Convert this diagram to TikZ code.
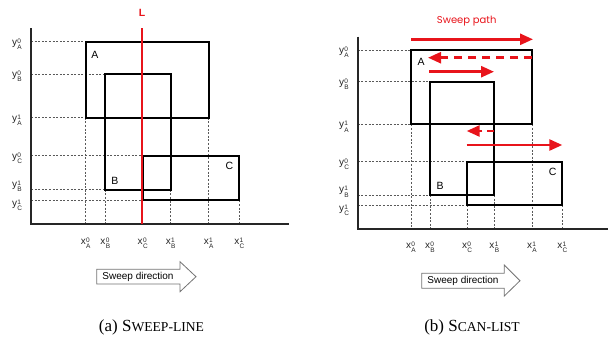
\documentclass[tikz,border=0pt]{standalone}
\usepackage{fontspec}
\setmainfont{Liberation Sans}
\newfontfamily\capfont{Liberation Serif}
\newfontfamily\pathfont{Poppins}
\usetikzlibrary{arrows.meta}
\newcommand\lbl[3]{#1\hspace{0.3pt}\raisebox{-4.2pt}{\fontsize{6.5}{7}\selectfont\setlength{\tabcolsep}{0pt}\renewcommand{\arraystretch}{0.95}\begin{tabular}[b]{l}#2\\#3\end{tabular}}}
\definecolor{sweepred}{HTML}{E8141B}
\tikzset{
  box/.style={draw=black, line width=1.8pt, fill=none},
  guide/.style={draw=black!65, line width=0.6pt, dash pattern=on 2pt off 1.6pt},
  axisline/.style={draw=black!85, line width=1.6pt},
  tick/.style={font=\fontsize{10}{11}\selectfont, text=black!85, inner sep=0pt},
  rectlbl/.style={font=\fontsize{10.5}{11}\selectfont, inner sep=0pt},
  dirarrow/.style={draw=black!55, line width=0.8pt, fill=white},
  dirtext/.style={font=\fontsize{10}{11}\selectfont, inner sep=0pt},
  redpath/.style={draw=sweepred, line width=2.6pt, -{Triangle[length=13pt,width=11pt]}},
  reddash/.style={redpath, dash pattern=on 8pt off 6pt},
  caption/.style={font=\capfont, inner sep=0pt},
}
\begin{document}
\begin{tikzpicture}[x=1pt,y=-1pt]
\useasboundingbox (0,0) rectangle (608,346);
% ================= LEFT PANEL =================
\coordinate (A0) at (85.7,41.7);  \coordinate (A1) at (208.7,117.7);
\coordinate (B0) at (105.3,74);   \coordinate (B1) at (170.7,189.7);
\coordinate (C0) at (142.7,155.7);\coordinate (C1) at (239.3,200.3);
\coordinate (O) at (31,224);
\foreach \p/\q in {A0/A0, B0/B0, A1/A0, C0/C0, B1/B0, C1/C0}{
  \draw[guide] (O |- \p) -- (\q |- \p);
}
\foreach \p/\q in {A0/A1, B0/B1, C0/C1, B1/B1, A1/A1, C1/C1}{
  \draw[guide] (\p |- \q) -- (\p |- O);
}
\draw[box] (A0) rectangle (A1);
\draw[box] (B0) rectangle (B1);
\draw[box] (C0) rectangle (C1);
\node[rectlbl] (la) at (95,54.5) {A};
\node[rectlbl] (lb) at (115,181) {B};
\node[rectlbl] (lc) at (229.3,165.7) {C};
\draw[axisline] (31,28) -- (O) -- (289,224);
\coordinate (Ltop) at (142,28);
\coordinate (Lbot) at (142,224);
\draw[draw=sweepred, line width=2.6pt] (Ltop) -- (Lbot);
\node[font=\bfseries\fontsize{10.5}{11}\selectfont, text=sweepred, inner sep=0pt] (L) at (142,13) {L};
\node[tick] at (17,45) {\lbl{y}{0}{A}};
\node[tick] at (17,77) {\lbl{y}{0}{B}};
\node[tick] at (17,121) {\lbl{y}{1}{A}};
\node[tick] at (17,159) {\lbl{y}{0}{C}};
\node[tick] at (17,187) {\lbl{y}{1}{B}};
\node[tick] at (17,206) {\lbl{y}{1}{C}};
\node[tick] at (85.7,244) {\lbl{x}{0}{A}};
\node[tick] at (105.3,244) {\lbl{x}{0}{B}};
\node[tick] at (142.7,244) {\lbl{x}{0}{C}};
\node[tick] at (170.7,244) {\lbl{x}{1}{B}};
\node[tick] at (208.7,244) {\lbl{x}{1}{A}};
\node[tick] at (239.3,244) {\lbl{x}{1}{C}};
\draw[dirarrow] (96.7,269.3) -- (180,269.3) -- (180,261.7) -- (196,276.7) -- (180,291.7) -- (180,284) -- (96.7,284) -- cycle;
\node[dirtext] (sdl) at (138,276.7) {Sweep direction};
\node[caption] (capa) at (151.5,327) {\fontsize{17}{17}\selectfont (a) S\fontsize{13.6}{14}\selectfont WEEP-LINE};

% ================= RIGHT PANEL =================
\coordinate (RA0) at (411,50);   \coordinate (RA1) at (532,124.3);
\coordinate (RB0) at (430,81.7); \coordinate (RB1) at (494.3,195);
\coordinate (RC0) at (467,161.7);\coordinate (RC1) at (562.3,205.3);
\coordinate (RO) at (357.7,229);
\foreach \p/\q in {RA0/RA0, RB0/RB0, RA1/RA0, RC0/RC0, RB1/RB0, RC1/RC0}{
  \draw[guide] (RO |- \p) -- (\q |- \p);
}
\foreach \p/\q in {RA0/RA1, RB0/RB1, RC0/RC1, RB1/RB1, RA1/RA1, RC1/RC1}{
  \draw[guide] (\p |- \q) -- (\p |- RO);
}
\draw[box] (RA0) rectangle (RA1);
\draw[box] (RB0) rectangle (RB1);
\draw[box] (RC0) rectangle (RC1);
\node[rectlbl] (rla) at (421,61.7) {A};
\node[rectlbl] (rlb) at (440,185.7) {B};
\node[rectlbl] (rlc) at (552.7,172.3) {C};
\draw[axisline] (357.7,36.7) -- (RO) -- (608,229);
\node[font=\pathfont\fontsize{10}{11}\selectfont, text=sweepred, inner sep=0pt] (sp) at (466.7,21.2) {Sweep path};
\coordinate (p1s) at (411,39.3);  \coordinate (p1e) at (533,39.3);
\coordinate (p2s) at (532,57.7);  \coordinate (p2e) at (428,57.7);
\coordinate (p3s) at (429,71.7);  \coordinate (p3e) at (494,71.7);
\coordinate (p4s) at (494.3,131); \coordinate (p4e) at (466.7,131);
\coordinate (p5s) at (466.7,145); \coordinate (p5e) at (562.3,145);
\draw[redpath] (p1s) -- (p1e);
\draw[reddash] (p2s) -- (p2e);
\draw[redpath] (p3s) -- (p3e);
\draw[reddash, dash pattern=on 7pt off 5pt] (p4s) -- (p4e);
\draw[redpath] (p5s) -- (p5e);
\node[tick] at (344,53) {\lbl{y}{0}{A}};
\node[tick] at (344,85) {\lbl{y}{0}{B}};
\node[tick] at (344,127.5) {\lbl{y}{1}{A}};
\node[tick] at (344,165) {\lbl{y}{0}{C}};
\node[tick] at (344,192.5) {\lbl{y}{1}{B}};
\node[tick] at (344,211) {\lbl{y}{1}{C}};
\node[tick] at (411,248) {\lbl{x}{0}{A}};
\node[tick] at (430,248) {\lbl{x}{0}{B}};
\node[tick] at (467,248) {\lbl{x}{0}{C}};
\node[tick] at (494.3,248) {\lbl{x}{1}{B}};
\node[tick] at (532,248) {\lbl{x}{1}{A}};
\node[tick] at (562.3,248) {\lbl{x}{1}{C}};
\draw[dirarrow] (421.7,273.3) -- (504.3,273.3) -- (504.3,265) -- (520,280.7) -- (504.3,296) -- (504.3,288.3) -- (421.7,288.3) -- cycle;
\node[dirtext] (sdr) at (463,280.7) {Sweep direction};
\node[caption] (capb) at (472,327) {\fontsize{17}{17}\selectfont (b) S\fontsize{13.6}{14}\selectfont CAN-LIST};
\end{tikzpicture}
\end{document}
